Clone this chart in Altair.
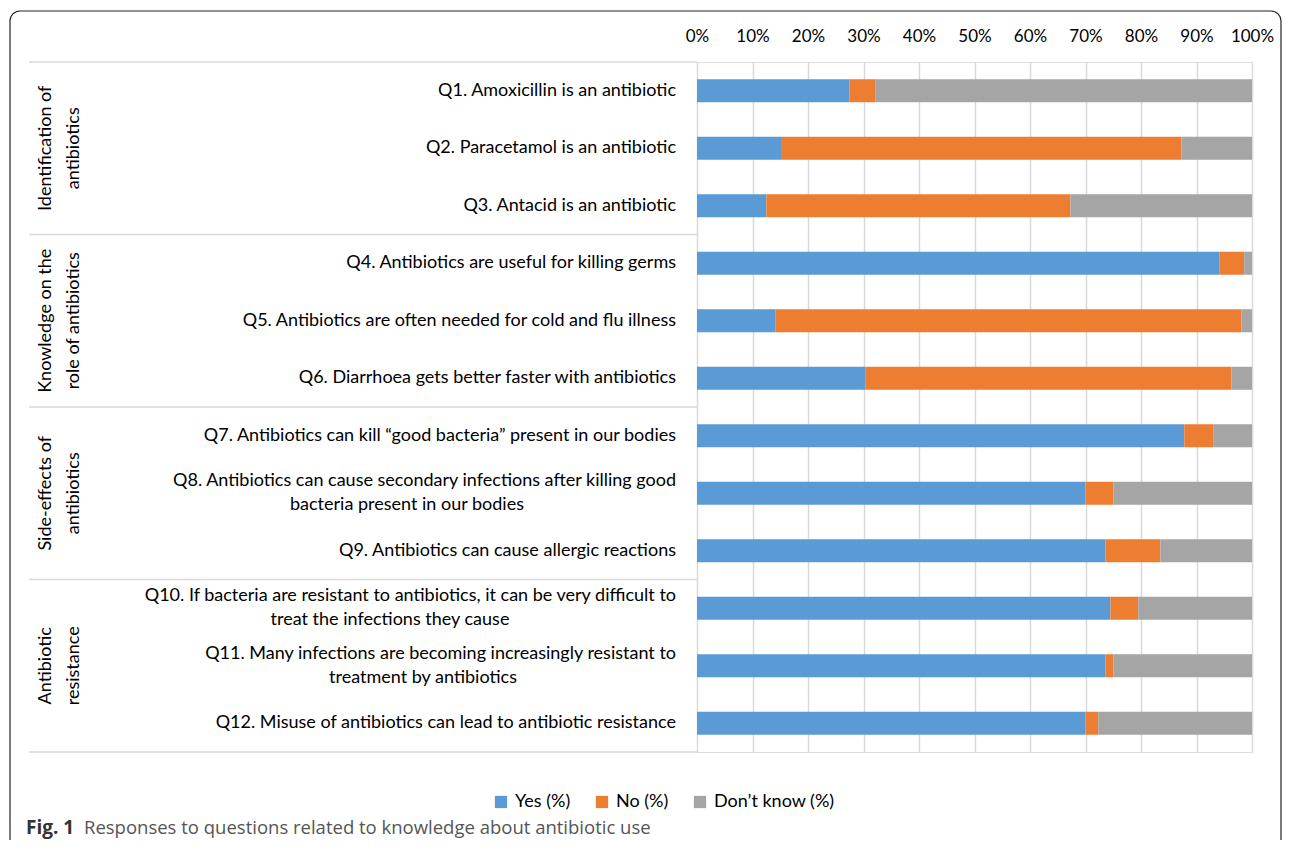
import altair as alt
import pandas as pd

# ---------------- data ----------------
q_ids = ["Q1", "Q2", "Q3", "Q4", "Q5", "Q6", "Q7", "Q8", "Q9", "Q10", "Q11", "Q12"]
q_line1 = [
    "Q1. Amoxicillin is an antibiotic",
    "Q2. Paracetamol is an antibiotic",
    "Q3. Antacid is an antibiotic",
    "Q4. Antibiotics are useful for killing germs",
    "Q5. Antibiotics are often needed for cold and flu illness",
    "Q6. Diarrhoea gets better faster with antibiotics",
    "Q7. Antibiotics can kill \u201cgood bacteria\u201d present in our bodies",
    "Q8. Antibiotics can cause secondary infections after killing good",
    "Q9. Antibiotics can cause allergic reactions",
    "Q10. If bacteria are resistant to antibiotics, it can be very difficult to",
    "Q11. Many infections are becoming increasingly resistant to",
    "Q12. Misuse of antibiotics can lead to antibiotic resistance",
]
q_line2 = ["", "", "", "", "", "", "",
           "bacteria present in our bodies", "",
           "treat the infections they cause",
           "treatment by antibiotics", ""]
yes_pct = [27.5, 15.3, 12.5, 94.1, 14.1, 30.4, 87.8, 70.0, 73.6, 74.5, 73.6, 70.0]
no_pct = [4.7, 72.0, 54.8, 4.5, 84.0, 65.9, 5.3, 5.0, 9.9, 5.0, 1.4, 2.3]
dk_pct = [67.8, 12.7, 32.7, 1.4, 1.9, 3.7, 6.9, 25.0, 16.5, 20.5, 25.0, 27.7]
responses = ["Yes (%)", "No (%)", "Don\u2019t know (%)"]
colors = ["#5B9BD5", "#ED7D31", "#A5A5A5"]
group_names = ["Identification of\nantibiotics", "Knowledge on the\nrole of antibiotics",
               "Side-effects of\nantibiotics", "Antibiotic\nresistance"]
group_mid_q = ["Q2", "Q5", "Q8", "Q11"]
group_bounds = [0, 3, 6, 9, 12]
x_ticks = [0, 10, 20, 30, 40, 50, 60, 70, 80, 90, 100]
caption_bold = "Fig. 1"
caption_text = "Responses to questions related to knowledge about antibiotic use"

# ---------------- tables ----------------
rows = []
for i, q in enumerate(q_ids):
    for k, (r, vals) in enumerate(zip(responses, [yes_pct, no_pct, dk_pct])):
        rows.append({"q": q, "resp": r, "val": vals[i], "ord": k})
bars_df = pd.DataFrame(rows)
lab_df = pd.DataFrame({"q": q_ids, "l1": q_line1, "l2": q_line2})
grp_df = pd.DataFrame({"q": group_mid_q, "g": group_names})
bnd_df = pd.DataFrame({"b": group_bounds})

FONT = "Lato"
FS = 18
W, H = 555, 690

yscale = alt.Scale(domain=q_ids, paddingInner=0.6, paddingOuter=0.3)
Y = alt.Y("q:N", scale=yscale, axis=None)

bars = alt.Chart(bars_df).mark_bar().encode(
    x=alt.X("val:Q", stack="zero",
            scale=alt.Scale(domain=[0, 100], nice=False),
            axis=alt.Axis(orient="top", values=x_ticks, labelExpr="datum.value + '%'",
                          title=None, grid=True, gridColor="#D9D9D9", gridWidth=1.5,
                          ticks=False, domain=False, labelFontSize=17, labelFont=FONT,
                          labelColor="#000000", labelPadding=17, labelOverlap=False,
                          labelFlush=False)),
    y=Y,
    color=alt.Color("resp:N", scale=alt.Scale(domain=responses, range=colors),
                    legend=alt.Legend(title=None, orient="none", direction="horizontal",
                                      legendX=-205, legendY=731, symbolType="square",
                                      symbolSize=150, symbolStrokeWidth=0,
                                      labelFontSize=FS, labelFont=FONT, labelColor="#000000",
                                      columnPadding=22, symbolOffset=0, labelOffset=5)),
    order=alt.Order("ord:Q"),
)

single = alt.Chart(lab_df).transform_filter("datum.l2 == ''").mark_text(
    align="right", baseline="middle", font=FONT, fontSize=FS, color="#000000"
).encode(y=Y, x=alt.value(-21), text="l1:N")

double1 = alt.Chart(lab_df).transform_filter("datum.l2 != ''").mark_text(
    align="right", baseline="middle", font=FONT, fontSize=FS, color="#000000", dy=-12
).encode(y=Y, x=alt.value(-21), text="l1:N")

line2_centers = {"Q8": -290, "Q10": -307, "Q11": -274}
double2 = [
    alt.Chart(lab_df).transform_filter(f"datum.q == '{q}'").mark_text(
        align="center", baseline="middle", font=FONT, fontSize=FS, color="#000000", dy=12
    ).encode(y=Y, x=alt.value(cx), text="l2:N")
    for q, cx in line2_centers.items()
]

groups = alt.Chart(grp_df).mark_text(
    align="center", baseline="middle", angle=270, lineBreak="\n",
    font=FONT, fontSize=FS, color="#000000", lineHeight=28
).encode(y=Y, x=alt.value(-651), text="g:N")

seps = alt.Chart(bnd_df).mark_rule(color="#D9D9D9", strokeWidth=1.5).encode(
    y=alt.Y("b:Q", scale=alt.Scale(domain=[0, 12], reverse=True, nice=False), axis=None),
    x=alt.value(-668), x2=alt.value(0),
)

one = pd.DataFrame({"a": [0]})
frame = alt.Chart(one).mark_rect(fill="transparent", stroke="#222222", strokeWidth=1.2,
                                 cornerRadius=10).encode(
    x=alt.value(-687), x2=alt.value(584), y=alt.value(-51), y2=alt.value(800))

cap1 = alt.Chart(one).mark_text(align="left", baseline="alphabetic", font="Open Sans",
                                fontSize=19, fontWeight="bold", color="#333333").encode(
    x=alt.value(-671), y=alt.value(772), text=alt.value(caption_bold))
cap2 = alt.Chart(one).mark_text(align="left", baseline="alphabetic", font="Open Sans",
                                fontSize=18.5, color="#555555").encode(
    x=alt.value(-613), y=alt.value(772), text=alt.value(caption_text))

chart = alt.layer(
    frame, seps, bars, single, double1, *double2, groups, cap1, cap2
).resolve_scale(y="independent").properties(
    width=W, height=H,
    autosize=alt.AutoSizeParams(type="none"),
    padding={"left": 689, "top": 54, "right": 32, "bottom": 88},
).configure_view(strokeWidth=0).configure(font=FONT)

chart.save("out.html", embed_options={"renderer": "svg", "actions": False})
